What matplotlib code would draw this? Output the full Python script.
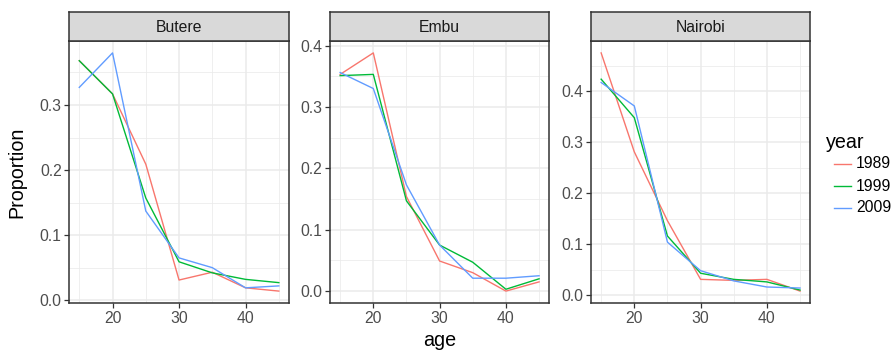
import matplotlib
matplotlib.use('Agg')
import matplotlib.pyplot as plt
from matplotlib.ticker import MultipleLocator
from matplotlib.lines import Line2D

plt.rcParams['font.family'] = ['Liberation Sans', 'DejaVu Sans']

ages = [15, 20, 25, 30, 35, 40, 45]
years = ['1989', '1999', '2009']
colors = ['#F8766D', '#00BA38', '#619CFF']
regions = ['Butere', 'Embu', 'Nairobi']

# proportions, per region and year
butere_1989 = [0.368, 0.317, 0.209, 0.031, 0.043, 0.019, 0.014]
butere_1999 = [0.368, 0.317, 0.157, 0.059, 0.042, 0.032, 0.027]
butere_2009 = [0.327, 0.380, 0.137, 0.065, 0.050, 0.019, 0.022]

embu_1989 = [0.353, 0.388, 0.154, 0.049, 0.030, 0.000, 0.015]
embu_1999 = [0.351, 0.353, 0.147, 0.075, 0.047, 0.003, 0.020]
embu_2009 = [0.356, 0.330, 0.173, 0.075, 0.021, 0.021, 0.025]

nairobi_1989 = [0.475, 0.281, 0.146, 0.031, 0.029, 0.031, 0.008]
nairobi_1999 = [0.4235, 0.348, 0.116, 0.043, 0.031, 0.026, 0.010]
nairobi_2009 = [0.417, 0.371, 0.104, 0.048, 0.028, 0.016, 0.014]

data = {
    'Butere': [butere_1989, butere_1999, butere_2009],
    'Embu': [embu_1989, embu_1999, embu_2009],
    'Nairobi': [nairobi_1989, nairobi_1999, nairobi_2009],
}

W, H = 894, 354
fig = plt.figure(figsize=(W / 100, H / 100), dpi=100)

panel_x = [(69.3, 288.8), (330.2, 549.0), (591.2, 810.0)]
top, bottom = 41, 303
strip_top = 12

small = 11.3
big = 14.2

def px_rect(x0, x1, y0, y1):
    return [x0 / W, 1 - y1 / H, (x1 - x0) / W, (y1 - y0) / H]

for i, region in enumerate(regions):
    x0, x1 = panel_x[i]
    ax = fig.add_axes(px_rect(x0, x1, top, bottom))
    for vals, c in zip(data[region], colors):
        ax.plot(ages, vals, color=c, lw=1.0)
    allv = [v for s in data[region] for v in s]
    lo, hi = min(allv), max(allv)
    pad = (hi - lo) * 0.05
    ax.set_ylim(lo - pad, hi + pad)
    ax.set_xlim(13.5, 46.5)
    ax.xaxis.set_major_locator(MultipleLocator(10))
    ax.xaxis.set_minor_locator(MultipleLocator(5))
    ax.yaxis.set_major_locator(MultipleLocator(0.1))
    ax.yaxis.set_minor_locator(MultipleLocator(0.05))
    ax.yaxis.set_major_formatter(matplotlib.ticker.FormatStrFormatter('%.1f'))
    ax.grid(which='major', color='#EBEBEB', lw=1.1)
    ax.grid(which='minor', color='#EBEBEB', lw=0.55)
    ax.set_axisbelow(True)
    ax.tick_params(which='minor', length=0)
    ax.tick_params(which='major', length=3.5, width=0.9, color='#333333',
                   labelsize=small, labelcolor='#4D4D4D', pad=2)
    for s in ax.spines.values():
        s.set_color('#333333')
        s.set_linewidth(1.1)

    # facet strip
    sx = fig.add_axes(px_rect(x0, x1, strip_top, top))
    sx.set_facecolor('#D9D9D9')
    sx.set_xticks([])
    sx.set_yticks([])
    for s in sx.spines.values():
        s.set_color('#333333')
        s.set_linewidth(1.1)
    sx.text(0.5, 0.45, region, ha='center', va='center', fontsize=small,
            color='#1A1A1A', transform=sx.transAxes)

fig.text(17 / W, 1 - 172 / H, 'Proportion', rotation=90, ha='center',
         va='center', fontsize=big)
fig.text(439.6 / W, 1 - 340 / H, 'age', ha='center', va='center', fontsize=big)

# legend
fig.text(826 / W, 1 - 142 / H, 'year', ha='left', va='center', fontsize=big)
for k, (yr, c) in enumerate(zip(years, colors)):
    yy = 1 - (164 + 22 * k) / H
    fig.add_artist(Line2D([834 / W, 851 / W], [yy, yy], color=c, lw=1.0))
    fig.text(856 / W, yy, yr, ha='left', va='center', fontsize=small)

fig.savefig('out.png', dpi=100)
